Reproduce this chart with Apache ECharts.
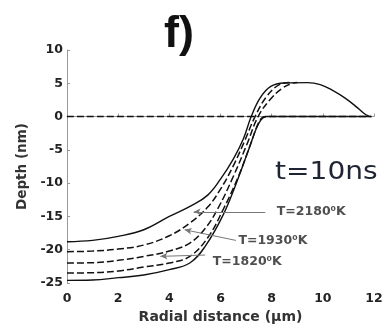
<!DOCTYPE html>
<html>
<head>
<meta charset="utf-8">
<script src="https://cdn.jsdelivr.net/npm/echarts@6/dist/echarts.min.js"></script>
<style>
  html, body { margin: 0; padding: 0; background: #fff; }
  #chart { width: 389px; height: 331px; }
</style>
</head>
<body>
<div id="chart"></div>
<script>
// Crater depth profiles (radial distance in µm, depth in nm)
var profileOuterTop = [
  [0,-18.8],[1,-18.6],[2,-18.0],[3,-17.0],[4,-15.0],[4.9,-13.3],
  [5.5,-11.8],[6.0,-9.4],[6.5,-6.4],[6.9,-3.3],[7.2,0.0],
  [7.55,2.8],[7.95,4.5],[8.5,5.05],[9.4,5.1],[9.9,4.8],
  [10.4,3.9],[10.9,2.7],[11.3,1.5],[11.6,0.5],[11.8,0.05]
];
var profileT2180 = [
  [0,-20.3],[1,-20.2],[2,-19.9],[3,-19.3],[4.0,-17.9],[4.8,-16.0],
  [5.5,-13.6],[6.0,-10.9],[6.5,-7.4],[6.95,-3.6],[7.35,0.0],
  [7.8,3.0],[8.3,4.8],[8.7,5.1]
];
var profileT1930 = [
  [0,-22.0],[1,-21.95],[2,-21.6],[3,-21.0],[4.0,-20.2],[4.8,-19.0],
  [5.4,-16.8],[5.9,-13.8],[6.5,-9.0],[7.05,-4.0],[7.47,0.0],
  [7.95,2.6],[8.4,4.2],[8.8,5.0],[9.0,5.1]
];
var profileT1820 = [
  [0,-23.5],[1,-23.45],[2,-23.2],[3,-22.6],[4.0,-22.0],[4.8,-21.0],
  [5.5,-18.2],[6.1,-14.0],[6.7,-9.0],[7.2,-3.9],[7.55,-0.5],
  [7.8,0],[9,0],[10.5,0],[11.9,0]
];
var profileOuterBottom = [
  [0,-24.6],[1,-24.55],[2,-24.2],[3,-23.8],[4.0,-23.0],[4.8,-22.0],
  [5.4,-19.5],[6.1,-14.8],[6.6,-10.2],[7.1,-5.0],[7.5,-1.0],
  [7.8,0],[9,0],[10.5,0],[11.9,0]
];
var originalSurface = [[0,0],[7.4,0]];

// Temperature annotations: pointer start, pointer end, text anchor
var annotationTexts = ['T=2180⁰K', 'T=1930⁰K', 'T=1820⁰K'];
var pointerStarts = [[4.95,-14.3],[4.6,-17.0],[3.65,-21.0]];
var pointerEnds = [[7.75,-14.3],[6.6,-18.6],[5.4,-20.8]];
var textAnchors = [[8.2,-14.3],[6.7,-18.6],[5.7,-21.8]];

var xTicks = { min: 0, max: 12, interval: 2 };
var yTicks = { min: -25, max: 10, interval: 5 };

var chart = echarts.init(document.getElementById('chart'), null, { renderer: 'canvas' });

var tickFont = { fontFamily: 'DejaVu Sans', fontWeight: 'bold', fontSize: 12.5, color: '#222' };

function profile(name, data, dashed) {
  return {
    name: name, type: 'line', data: data, showSymbol: false,
    smooth: 0.4, z: 3,
    lineStyle: { color: '#111', width: dashed ? 1.5 : 1.4, type: dashed ? [7, 3] : 'solid' }
  };
}

var pointerLines = pointerStarts.map(function (s, i) {
  return [{ coord: s }, { coord: pointerEnds[i] }];
});

var labelPoints = textAnchors.map(function (p, i) {
  return { value: [p[0], p[1]], name: annotationTexts[i] };
});

chart.setOption({
  animation: false,
  backgroundColor: '#fff',
  grid: { left: 67, right: 15, top: 50, bottom: 48 },
  xAxis: {
    type: 'value', min: xTicks.min, max: xTicks.max, interval: xTicks.interval,
    name: 'Radial distance (µm)', nameLocation: 'middle', nameGap: 27,
    nameTextStyle: { fontFamily: 'DejaVu Sans', fontWeight: 'bold', fontSize: 14, color: '#333' },
    axisLine: { show: true, lineStyle: { color: '#999', width: 1 } },
    axisTick: { show: true, inside: true, length: 3, lineStyle: { color: '#999' } },
    axisLabel: Object.assign({ margin: 9 }, tickFont),
    splitLine: { show: false }
  },
  yAxis: {
    type: 'value', min: yTicks.min, max: yTicks.max, interval: yTicks.interval,
    name: 'Depth (nm)', nameLocation: 'middle', nameGap: 38,
    nameTextStyle: { fontFamily: 'DejaVu Sans', fontWeight: 'bold', fontSize: 13.5, color: '#333' },
    axisLine: { show: true, onZero: false, lineStyle: { color: '#999', width: 1 } },
    axisTick: { show: true, inside: true, length: 3, lineStyle: { color: '#999' } },
    axisLabel: Object.assign({ margin: 4 }, tickFont),
    splitLine: { show: false }
  },
  series: [
    profile('surface', originalSurface, true),
    profile('outerTop', profileOuterTop, false),
    profile('T2180', profileT2180, true),
    profile('T1930', profileT1930, true),
    profile('T1820', profileT1820, true),
    profile('outerBottom', profileOuterBottom, false),
    {
      name: 'annotations', type: 'scatter', data: labelPoints,
      symbolSize: 0, silent: true, z: 5,
      label: {
        show: true, position: 'right', distance: 0,
        formatter: function (p) { return p.name; },
        fontFamily: 'DejaVu Sans', fontWeight: 'bold', fontSize: 12.5, color: '#222'
      },
      markLine: {
        silent: true, symbol: ['arrow', 'none'], symbolSize: [5, 7],
        label: { show: false },
        lineStyle: { color: '#777', width: 1, type: 'solid' },
        data: pointerLines
      }
    }
  ],
  graphic: [
    {
      type: 'text', left: 164, top: 12, z: 10,
      style: { text: 'f)', font: 'bold 45px "Liberation Sans", Arial', fill: '#111' }
    },
    {
      type: 'text', x: 275, y: 161, scaleX: 1.17, z: 10,
      style: { text: 't=10ns', font: '24px "DejaVu Sans"', fill: '#1e2434' }
    }
  ]
});
</script>
</body>
</html>
